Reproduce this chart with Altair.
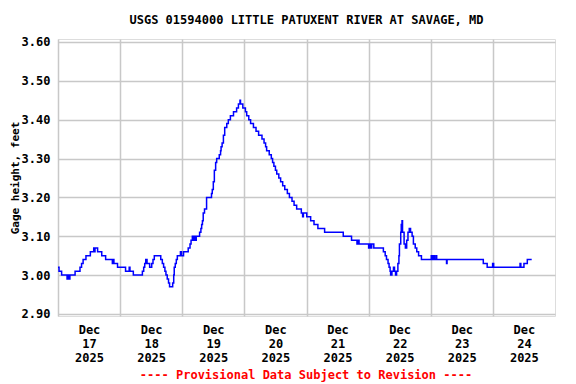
import altair as alt
import pandas as pd

TITLE = "USGS 01594000 LITTLE PATUXENT RIVER AT SAVAGE, MD"
NOTE = "---- Provisional Data Subject to Revision ----"
Y_TITLE = "Gage height, feet"
START = "2025-12-17 00:00"

# hours after Dec 17 2025 00:00 and gage height (ft)
hours = [
    0.0, 0.4, 1.4, 3.5, 4.0, 4.3, 4.6, 6.6, 8.5, 9.1, 9.7, 10.8, 12.5, 13.8, 14.0, 14.3,
    15.3, 16.9, 18.4, 21.0, 21.3, 21.6, 23.0, 26.1, 27.5, 27.8, 29.1, 32.6, 33.1, 33.5,
    33.9, 34.4, 35.4, 36.2, 36.7, 37.2, 39.7, 40.3, 40.8, 41.3, 41.7, 42.2, 42.7, 43.1,
    44.3, 44.7, 44.9, 45.3, 45.7, 46.1, 47.3, 47.7, 48.5, 50.3, 51.0, 51.4, 51.9, 52.3,
    52.7, 53.0, 53.4, 54.7, 55.2, 55.5, 55.8, 56.1, 56.6, 57.4, 59.3, 59.6, 60.0, 60.4,
    60.9, 61.3, 62.3, 62.8, 63.0, 63.4, 63.9, 64.4, 65.2, 65.8, 66.6, 67.8, 69.0, 69.7,
    70.3, 70.5, 71.4, 72.4, 72.9, 73.7, 74.4, 75.5, 76.5, 77.5, 78.8, 79.6, 80.2, 80.6,
    81.6, 82.4, 82.9, 83.4, 84.0, 84.5, 85.3, 86.0, 86.8, 87.6, 88.6, 89.4, 90.4, 91.2,
    92.2, 94.0, 94.5, 94.8, 96.1, 97.6, 98.9, 100.4, 103.0, 110.2, 113.4, 115.5, 116.0,
    116.3, 120.0, 120.4, 120.8, 121.2, 122.0, 125.7, 126.4, 126.9, 127.5, 127.9, 128.3,
    128.5, 129.0, 129.6, 130.0, 130.4, 130.8, 131.3, 131.7, 131.9, 132.4, 132.6, 132.9,
    133.1, 133.7, 134.2, 134.7, 135.2, 135.7, 136.2, 136.8, 137.3, 138.0, 138.6, 139.3,
    140.4, 144.2, 144.6, 145.0, 145.4, 146.0, 146.3, 150.1, 150.3, 164.3, 165.8, 167.9,
    168.3, 178.5, 178.8, 180.0, 181.3, 183.0,
]
height = [
    3.02, 3.01, 3.00, 2.99, 3.00, 2.99, 3.00, 3.01, 3.02, 3.03, 3.04, 3.05, 3.06, 3.07, 3.06, 3.07,
    3.06, 3.05, 3.04, 3.03, 3.04, 3.03, 3.02, 3.01, 3.02, 3.01, 3.00, 3.01, 3.02, 3.03,
    3.04, 3.03, 3.02, 3.03, 3.04, 3.05, 3.04, 3.03, 3.02, 3.01, 3.00, 2.99, 2.98, 2.97,
    2.98, 3.00, 3.02, 3.03, 3.04, 3.05, 3.06, 3.05, 3.06, 3.07, 3.08, 3.09, 3.10, 3.09,
    3.10, 3.09, 3.10, 3.11, 3.12, 3.13, 3.14, 3.16, 3.17, 3.20, 3.21, 3.22, 3.24, 3.27,
    3.29, 3.30, 3.31, 3.32, 3.33, 3.34, 3.36, 3.38, 3.39, 3.40, 3.41, 3.42, 3.43, 3.44,
    3.45, 3.44, 3.43, 3.42, 3.41, 3.40, 3.39, 3.38, 3.37, 3.36, 3.35, 3.34, 3.33, 3.32,
    3.31, 3.30, 3.29, 3.28, 3.27, 3.26, 3.25, 3.24, 3.23, 3.22, 3.21, 3.20, 3.19, 3.18,
    3.17, 3.16, 3.15, 3.16, 3.15, 3.14, 3.13, 3.12, 3.11, 3.10, 3.09, 3.08, 3.09,
    3.08, 3.07, 3.08, 3.07, 3.08, 3.07, 3.06, 3.05, 3.04, 3.03, 3.02, 3.01,
    3.00, 3.01, 3.02, 3.01, 3.00, 3.01, 3.03, 3.05, 3.08, 3.11, 3.13, 3.14,
    3.11, 3.08, 3.07, 3.09, 3.11, 3.12, 3.11, 3.10, 3.08, 3.07, 3.06, 3.05,
    3.04, 3.05, 3.04, 3.05, 3.04, 3.05, 3.04, 3.03, 3.04, 3.03, 3.02, 3.03,
    3.02, 3.03, 3.02, 3.03, 3.04, 3.04,
]

y_ticks = [2.9, 3.0, 3.1, 3.2, 3.3, 3.4, 3.5, 3.6]
day_ticks = [alt.DateTime(year=2025, month=12, date=d) for d in range(17, 25)]

times = pd.Timestamp(START) + pd.to_timedelta(hours, unit="h")
df = pd.DataFrame({"time": times, "height": height})

FONT = "DejaVu Sans Mono"

x_enc = alt.X(
    "time:T",
    scale=alt.Scale(domain=[alt.DateTime(year=2025, month=12, date=17),
                            alt.DateTime(year=2025, month=12, date=25)]),
    axis=alt.Axis(
        values=day_ticks,
        title=None,
        grid=True,
        gridColor="#c8c8c8",
        gridWidth=1.5,
        ticks=False,
        domain=False,
        labelOffset=31,
        labelAlign="center",
        labelPadding=8,
        labelLineHeight=14,
        labelFont=FONT,
        labelFontSize=12,
        labelFontWeight="bold",
        labelColor="black",
        labelExpr="[timeFormat(datum.value, '%b'), timeFormat(datum.value, '%d'), timeFormat(datum.value, '%Y')]",
    ),
)

y_enc = alt.Y(
    "height:Q",
    scale=alt.Scale(domain=[2.8948, 3.6075], nice=False, zero=False),
    axis=alt.Axis(
        values=y_ticks,
        format=".2f",
        title=Y_TITLE,
        titleFont=FONT,
        titleFontSize=11,
        titleFontWeight="bold",
        titleColor="black",
        titleBaseline="alphabetic",
        titlePadding=2.5,
        grid=True,
        gridColor="#c8c8c8",
        gridWidth=1.5,
        ticks=False,
        domain=False,
        labelPadding=8,
        labelFont=FONT,
        labelFontSize=12,
        labelFontWeight="bold",
        labelColor="black",
    ),
)

line = alt.Chart(df).mark_line(
    interpolate="step-after", color="#0000ff", strokeWidth=1.5
).encode(x=x_enc, y=y_enc)

note = alt.Chart(pd.DataFrame({"t": [NOTE]})).mark_text(
    font=FONT, fontSize=12, fontWeight="bold", color="#ff0000",
    align="center", baseline="middle"
).encode(text="t:N", x=alt.value(248), y=alt.value(336))

chart = alt.layer(line, note).properties(
    width=497,
    height=277,
    padding={"left": 50, "top": 31, "right": 13, "bottom": 68},
    autosize=alt.AutoSizeParams(type="none"),
    title=alt.TitleParams(
        TITLE, font=FONT, fontSize=12, fontWeight="bold", color="black",
        anchor="middle", offset=9
    ),
).configure_view(
    stroke="black", strokeWidth=1.5
).configure(background="white")

chart.save("out.html", embed_options={"renderer": "svg", "actions": False})
